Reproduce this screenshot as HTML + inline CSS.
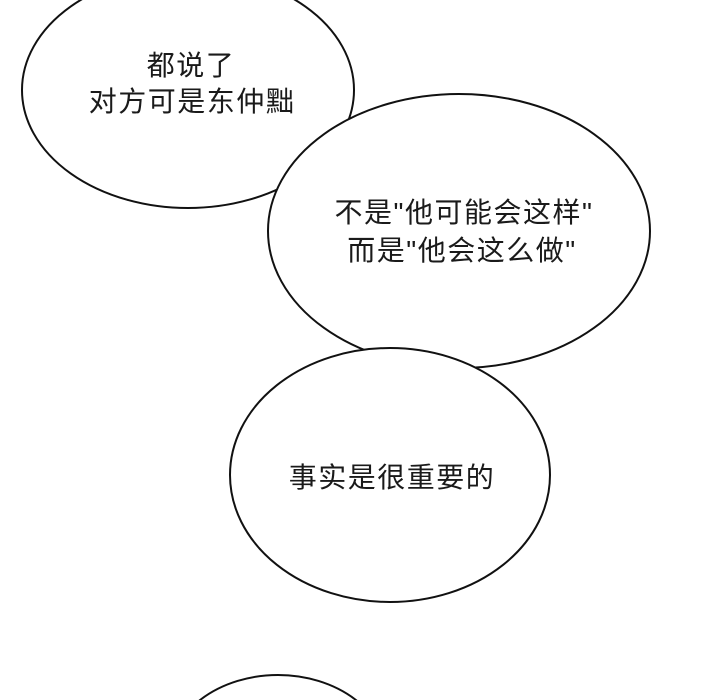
<!DOCTYPE html>
<html><head><meta charset="utf-8"><style>
html,body{margin:0;padding:0;background:#fff;width:720px;height:700px;overflow:hidden;}
svg{display:block;}
text{font-family:"Liberation Sans","Noto Sans CJK SC",sans-serif;font-size:28px;letter-spacing:1.5px;fill:#1a1a1a;text-anchor:middle;}
</style></head><body>
<svg width="720" height="700" viewBox="0 0 720 700">
<rect width="720" height="700" fill="#fff"/>
<ellipse cx="188" cy="90" rx="166" ry="118" fill="#fff" stroke="#111" stroke-width="2"/>
<ellipse cx="459" cy="231" rx="191" ry="137" fill="#fff" stroke="#111" stroke-width="2"/>
<ellipse cx="390" cy="475" rx="160" ry="127" fill="#fff" stroke="#111" stroke-width="2"/>
<ellipse cx="278" cy="760" rx="110" ry="85" fill="#fff" stroke="#111" stroke-width="2"/>
<text x="191" y="75">都说了</text>
<text x="192" y="111">对方可是东仲黜</text>
<text x="464" y="222">不是"他可能会这样"</text>
<text x="462" y="260">而是"他会这么做"</text>
<text x="392" y="487">事实是很重要的</text>
</svg>
</body></html>
